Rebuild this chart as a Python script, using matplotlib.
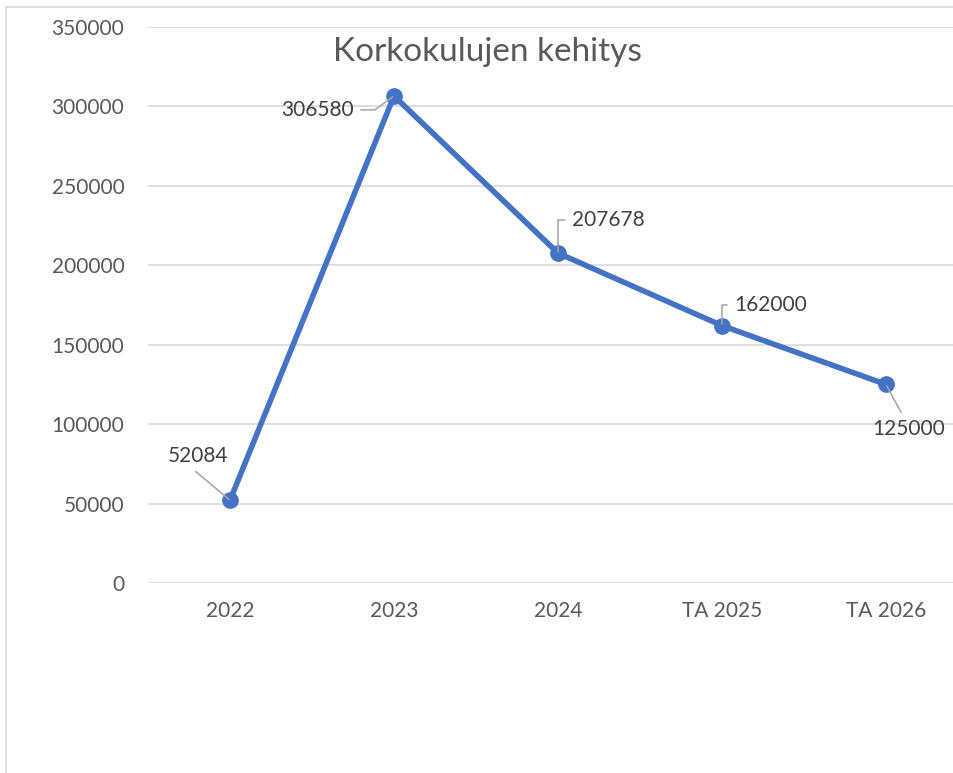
import matplotlib.pyplot as plt
from matplotlib.lines import Line2D

# data
years = ["2022", "2023", "2024", "TA 2025", "TA 2026"]
costs = [52084, 306580, 207678, 162000, 125000]

# label offsets (points) and leader line settings per label
label_offsets = [(-23, 32), (-55, -10), (36, 24), (35, 15), (16, -32)]
label_relpos = [(0.35, 0.0), (1.0, 0.5), (0.0, 0.5), (0.0, 0.5), (0.45, 1.0)]
label_conn = ["arc3", "angle,angleA=0,angleB=36,rad=0",
              "angle,angleA=180,angleB=90,rad=0",
              "angle,angleA=180,angleB=90,rad=0", "arc3"]

plt.rcParams['font.family'] = ['Lato', 'DejaVu Sans']

fig = plt.figure(figsize=(9.54, 7.73), dpi=100)
ax = fig.add_axes([148 / 954, 190 / 773, 820 / 954, 556 / 773])

x = list(range(len(years)))
ax.plot(x, costs, color="#4472C4", lw=4, marker="o", ms=11,
        solid_capstyle="round", solid_joinstyle="round", zorder=3)

for i, v in enumerate(costs):
    ax.annotate(str(v), xy=(i, v), xytext=label_offsets[i],
                textcoords="offset points", ha="center", va="center",
                fontsize=15, color="#404040",
                arrowprops=dict(arrowstyle="-", color="#a6a6a6", lw=1.1,
                                relpos=label_relpos[i], shrinkA=3, shrinkB=1,
                                connectionstyle=label_conn[i]))

ax.set_xlim(-0.5, 4.5)
ax.set_ylim(0, 350000)
ax.set_yticks(range(0, 350001, 50000))
ax.set_xticks(x)
ax.set_xticklabels(years)
ax.grid(axis="y", color="#d9d9d9", lw=1.2)
ax.set_axisbelow(True)
for s in ax.spines.values():
    s.set_visible(False)
ax.tick_params(length=0, labelsize=15, labelcolor="#595959")
ax.tick_params(axis="y", pad=17)
ax.tick_params(axis="x", pad=13)

fig.text(487 / 954, 1 - 52 / 773, "Korkokulujen kehitys", ha="center",
         va="center", fontsize=24, color="#595959")

# chart frame (left and top edges visible)
fig.add_artist(Line2D([6 / 954, 6 / 954], [0, 1 - 7 / 773],
                      transform=fig.transFigure, color="#d9d9d9", lw=1.2))
fig.add_artist(Line2D([6 / 954, 1], [1 - 7 / 773, 1 - 7 / 773],
                      transform=fig.transFigure, color="#d9d9d9", lw=1.2))

fig.savefig("out.png", dpi=100)
